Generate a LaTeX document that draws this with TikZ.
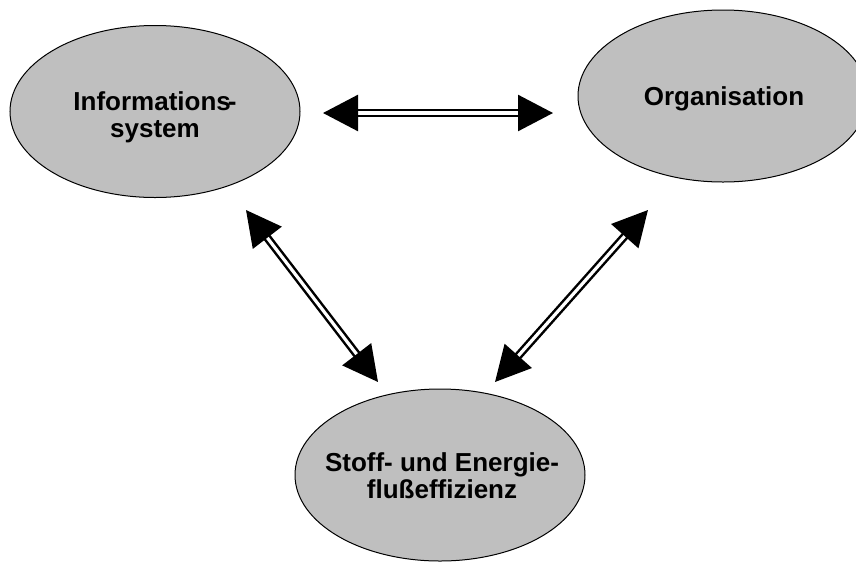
\documentclass[tikz,border=0pt]{standalone}
\usepackage{fontspec}
\setmainfont{Liberation Sans}
\usetikzlibrary{arrows.meta,shapes.geometric}

\tikzset{
  blob/.style={ellipse, draw=black, line width=1pt, fill=black!25,
    minimum width=290pt, minimum height=172pt, inner sep=0pt},
  lbl/.style={align=center, inner sep=0pt,
    font=\fontsize{26}{27}\selectfont\bfseries},
  link/.style={draw=black, line width=2.5pt, double=white, double distance=3.2pt,
    {Triangle[length=35pt,width=36pt]}-{Triangle[length=35pt,width=36pt]}}
}

\begin{document}
\begin{tikzpicture}[x=1pt,y=-1pt]
  \useasboundingbox (0,0) rectangle (856,563);

  % the three ellipses
  \node[blob] (info) at (155,111.5) {};
  \node[blob] (orga) at (723,96) {};
  \node[blob] (flow) at (440,475) {};

  % their labels (the hyphen after "Informations" sits tight against the s)
  \node[lbl] (infotext) at (155,117) {Informations\kern-3pt-\\system};
  \node[lbl] (orgatext) at (724,99) {Organisation};
  \node[lbl] (flowtext) at (442,476) {Stoff- und Energie-\\flußeffizienz};

  % arrow end points in the gaps between the ellipses
  \coordinate (ioA) at (323,113);
  \coordinate (ioB) at (553,113);
  \coordinate (ifA) at (246,210);
  \coordinate (ifB) at (378,382);
  \coordinate (ofA) at (648,210);
  \coordinate (ofB) at (495,382);

  % double-lined two-headed arrows
  \draw[link] (ioA) -- (ioB);
  \draw[link] (ifA) -- (ifB);
  \draw[link] (ofA) -- (ofB);
\end{tikzpicture}
\end{document}
